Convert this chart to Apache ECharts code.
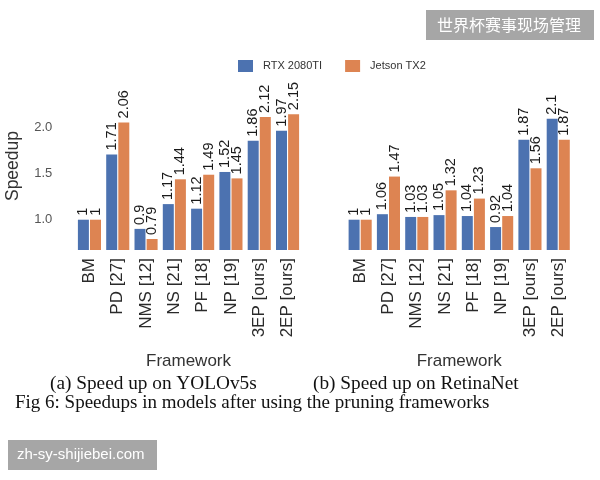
<!DOCTYPE html>
<html>
<head>
<meta charset="utf-8">
<script src="https://cdn.jsdelivr.net/npm/echarts@6/dist/echarts.min.js"></script>
<style>
  html, body { margin: 0; padding: 0; background: #fff; }
  #chart { width: 600px; height: 480px; }
</style>
</head>
<body>
<div id="chart"></div>
<script>
// data
const frameworks = ['BM', 'PD [27]', 'NMS [12]', 'NS [21]', 'PF [18]', 'NP [19]', '3EP [ours]', '2EP [ours]']
const yoloRtx = [1, 1.71, 0.9, 1.17, 1.12, 1.52, 1.86, 1.97]
const yoloTx2 = [1, 2.06, 0.79, 1.44, 1.49, 1.45, 2.12, 2.15]
const retinaRtx = [1, 1.06, 1.03, 1.05, 1.04, 0.92, 1.87, 2.1]
const retinaTx2 = [1, 1.47, 1.03, 1.32, 1.23, 1.04, 1.56, 1.87]
const yTicks = [1.0, 1.5, 2.0]

const BLUE = '#4c72b0'
const ORANGE = '#dd8452'
const SANS = 'Liberation Sans'
const SERIF = 'Liberation Serif'

const chart = echarts.init(document.getElementById('chart'))

const barLabel = {
  show: true,
  position: 'top',
  rotate: 90,
  align: 'left',
  verticalAlign: 'middle',
  distance: 4,
  fontSize: 14.5,
  fontFamily: SANS,
  color: '#1a1a1a'
}

const xAxisBase = idx => ({
  type: 'category',
  gridIndex: idx,
  data: frameworks,
  axisLine: { show: false },
  axisTick: { show: false },
  axisLabel: { rotate: 90, interval: 0, margin: 8, fontSize: 17, fontFamily: SANS, color: '#2a2a2a' },
  name: 'Framework',
  nameLocation: 'middle',
  nameGap: 103,
  nameTextStyle: { fontSize: 17, fontFamily: SANS, color: '#333' }
})

const yAxisBase = idx => ({
  type: 'value',
  gridIndex: idx,
  min: 0.67,
  max: 2.5,
  axisLine: { show: false },
  axisTick: { show: false },
  splitLine: { show: false },
  axisLabel: {
    show: idx === 0,
    customValues: yTicks,
    formatter: v => v.toFixed(1),
    margin: 23,
    fontSize: 13,
    fontFamily: SANS,
    color: '#555'
  },
  name: idx === 0 ? 'Speedup' : '',
  nameLocation: 'middle',
  nameGap: 53,
  nameTextStyle: { fontSize: 17.5, fontFamily: SANS, color: '#333' }
})

const mkSeries = (name, data, color, idx) => ({
  name: name,
  type: 'bar',
  xAxisIndex: idx,
  yAxisIndex: idx,
  data: data,
  barWidth: 11,
  barGap: '10%',
  itemStyle: { color: color },
  label: barLabel
})

const option = {
  animation: false,
  legend: {
    data: ['RTX 2080TI', 'Jetson TX2'],
    left: 233,
    top: 55,
    icon: 'rect',
    itemWidth: 15,
    itemHeight: 12,
    itemGap: 23,
    textStyle: { fontSize: 11, fontFamily: SANS, color: '#333', padding: [0, 0, 0, 5] }
  },
  grid: [
    { left: 75.3, top: 82, width: 226.4, height: 168 },
    { left: 346, top: 82, width: 226.4, height: 168 }
  ],
  xAxis: [xAxisBase(0), xAxisBase(1)],
  yAxis: [yAxisBase(0), yAxisBase(1)],
  series: [
    mkSeries('RTX 2080TI', yoloRtx, BLUE, 0),
    mkSeries('Jetson TX2', yoloTx2, ORANGE, 0),
    mkSeries('RTX 2080TI', retinaRtx, BLUE, 1),
    mkSeries('Jetson TX2', retinaTx2, ORANGE, 1)
  ],
  graphic: [
    { type: 'text', left: 50, top: 374, style: { text: '(a) Speed up on YOLOv5s', font: '19.3px ' + SERIF, fill: '#111' } },
    { type: 'text', left: 313, top: 374, style: { text: '(b) Speed up on RetinaNet', font: '19.3px ' + SERIF, fill: '#111' } },
    { type: 'text', left: 15, top: 394, style: { text: 'Fig 6: Speedups in models after using the pruning frameworks', font: '19px ' + SERIF, fill: '#111' } },
    { type: 'rect', shape: { x: 426, y: 10, width: 168, height: 30 }, style: { fill: '#a6a6a6' } },
    { type: 'text', left: 437, top: 17, style: { text: '世界杯赛事现场管理', font: '16px "Noto Sans CJK SC"', fill: '#fff' } },
    { type: 'rect', shape: { x: 8, y: 440, width: 149, height: 30 }, style: { fill: '#a6a6a6' } },
    { type: 'text', left: 17, top: 447, style: { text: 'zh-sy-shijiebei.com', font: '15px ' + SANS, fill: '#fff' } }
  ]
}

chart.setOption(option)
</script>
</body>
</html>
